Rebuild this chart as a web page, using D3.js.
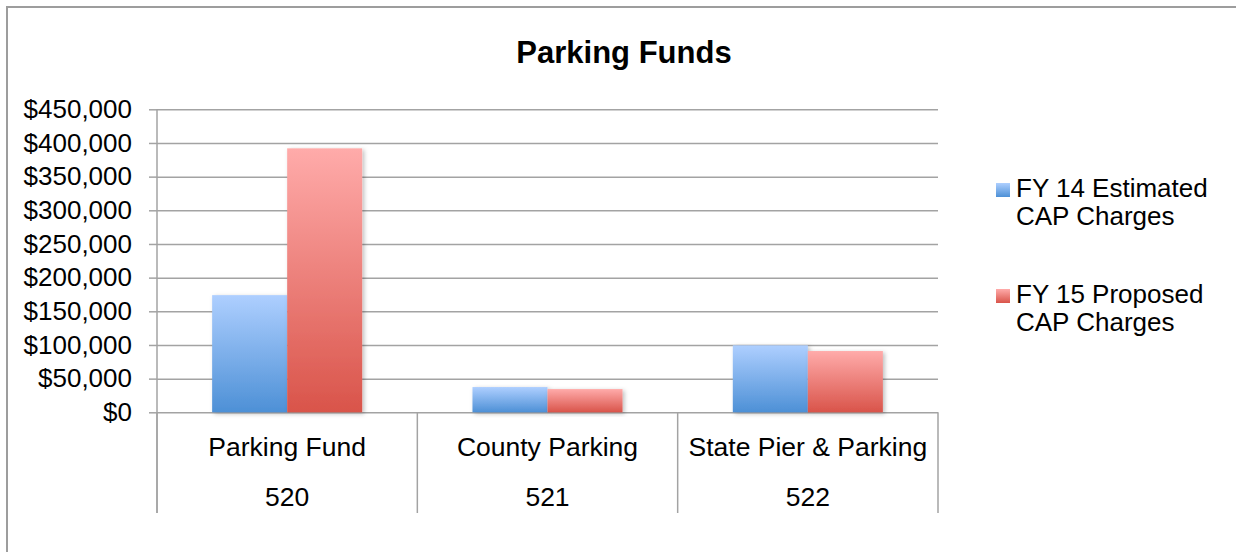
<!DOCTYPE html>
<html>
<head>
<meta charset="utf-8">
<script src="https://cdn.jsdelivr.net/npm/d3@7"></script>
<style>
  html, body { margin: 0; padding: 0; background: #fff; }
  svg { display: block; font-family: "Liberation Sans", Arial, sans-serif; }
</style>
</head>
<body>
<svg id="chart" width="1236" height="552"></svg>
<script>
const categories = ["Parking Fund", "County Parking", "State Pier & Parking"];
const fundCodes = ["520", "521", "522"];
const seriesKeys = ["fy14", "fy15"];
const seriesLabels = [["FY 14 Estimated", "CAP Charges"], ["FY 15 Proposed", "CAP Charges"]];
const fy14Values = [174000, 37500, 99500];
const fy15Values = [392000, 34500, 91000];
const yTicks = [0, 50000, 100000, 150000, 200000, 250000, 300000, 350000, 400000, 450000];

const rows = categories.map((name, i) => ({
  name,
  code: fundCodes[i],
  fy14: fy14Values[i],
  fy15: fy15Values[i],
}));

const plot = { left: 157, right: 938, top: 109.3, bottom: 412.3 };
const gridColor = "#a3a3a3";
const gradients = {
  fy14: ["#aecfff", "#4d90d6"],
  fy15: ["#ffabaa", "#d9544a"],
};

const svg = d3.select("#chart");
const defs = svg.append("defs");

seriesKeys.forEach((key) => {
  const g = defs.append("linearGradient")
    .attr("id", `grad-${key}`)
    .attr("x1", 0).attr("y1", 0).attr("x2", 0).attr("y2", 1);
  g.append("stop").attr("offset", "0%").attr("stop-color", gradients[key][0]);
  g.append("stop").attr("offset", "100%").attr("stop-color", gradients[key][1]);
});

const shadow = defs.append("filter").attr("id", "shadow")
  .attr("x", "-10%").attr("y", "-10%").attr("width", "130%").attr("height", "130%");
shadow.append("feDropShadow")
  .attr("dx", 2).attr("dy", 1.5).attr("stdDeviation", 2)
  .attr("flood-color", "#000").attr("flood-opacity", 0.25);

// outer chart border (right and bottom edges run off the canvas)
svg.append("rect")
  .attr("x", 7).attr("y", 7)
  .attr("width", 1250).attr("height", 560)
  .attr("fill", "none")
  .attr("stroke", "#9d9d9d")
  .attr("stroke-width", 2);

svg.append("text")
  .attr("x", 624)
  .attr("y", 63)
  .attr("text-anchor", "middle")
  .attr("font-size", 31)
  .attr("font-weight", "bold")
  .attr("fill", "#000")
  .text("Parking Funds");

const x0 = d3.scaleBand()
  .domain(categories)
  .range([plot.left, plot.right])
  .padding(0);

const x1 = d3.scaleBand()
  .domain(seriesKeys)
  .range([0, x0.bandwidth()])
  .paddingInner(0)
  .paddingOuter(0.735);

const y = d3.scaleLinear()
  .domain([0, 450000])
  .range([plot.bottom, plot.top]);

// horizontal gridlines
svg.append("g")
  .attr("class", "grid")
  .attr("transform", `translate(${plot.left},0)`)
  .call(d3.axisLeft(y).tickValues(yTicks).tickSize(-(plot.right - plot.left)).tickFormat(""))
  .call((g) => g.select(".domain").remove())
  .call((g) => g.selectAll(".tick line").attr("stroke", gridColor).attr("stroke-width", 1.5));

// y axis with outward ticks
const yAxisG = svg.append("g")
  .attr("class", "y-axis")
  .attr("transform", `translate(${plot.left},0)`)
  .call(d3.axisLeft(y)
    .tickValues(yTicks)
    .tickSize(8)
    .tickPadding(17)
    .tickFormat((d) => "$" + d3.format(",")(d)));
yAxisG.select(".domain").remove();
yAxisG.selectAll(".tick line").attr("stroke", gridColor).attr("stroke-width", 1.5);
yAxisG.selectAll(".tick text")
  .attr("font-size", 26)
  .attr("font-family", "Liberation Sans, Arial, sans-serif")
  .attr("fill", "#000");

// vertical axis line down through the category table
svg.append("line")
  .attr("x1", plot.left).attr("x2", plot.left)
  .attr("y1", plot.top).attr("y2", 513)
  .attr("stroke", gridColor).attr("stroke-width", 1.5);

// category dividers
const dividerXs = categories.map((c) => x0(c) + x0.bandwidth()).concat([plot.left]);
svg.append("g")
  .attr("class", "dividers")
  .selectAll("line")
  .data(dividerXs)
  .join("line")
  .attr("x1", (d) => d).attr("x2", (d) => d)
  .attr("y1", plot.bottom).attr("y2", 513)
  .attr("stroke", gridColor).attr("stroke-width", 1.5);

// bars
const groups = svg.append("g")
  .attr("class", "bars")
  .selectAll("g")
  .data(rows)
  .join("g")
  .attr("transform", (d) => `translate(${x0(d.name)},0)`);

groups.selectAll("rect")
  .data((d) => seriesKeys.map((key) => ({ key, value: d[key] })))
  .join("rect")
  .attr("x", (d) => x1(d.key))
  .attr("y", (d) => y(d.value))
  .attr("width", x1.bandwidth())
  .attr("height", (d) => y(0) - y(d.value))
  .attr("fill", (d) => `url(#grad-${d.key})`)
  .attr("filter", "url(#shadow)");

// category labels (two rows)
const labels = svg.append("g")
  .attr("class", "x-labels")
  .selectAll("g")
  .data(rows)
  .join("g")
  .attr("transform", (d) => `translate(${x0(d.name) + x0.bandwidth() / 2},0)`)
  .attr("text-anchor", "middle")
  .attr("font-size", 26.5)
  .attr("fill", "#000");

labels.append("text").attr("y", 456).text((d) => d.name);
labels.append("text").attr("y", 506).text((d) => d.code);

// legend
const legend = svg.append("g")
  .attr("class", "legend")
  .selectAll("g")
  .data(seriesKeys)
  .join("g")
  .attr("transform", (d, i) => `translate(996,${197 + i * 106})`);

legend.append("rect")
  .attr("x", 0).attr("y", -14)
  .attr("width", 14).attr("height", 14)
  .attr("fill", (d) => `url(#grad-${d})`);

legend.append("text")
  .attr("x", 20)
  .attr("font-size", 26)
  .attr("fill", "#000")
  .selectAll("tspan")
  .data((d, i) => seriesLabels[i])
  .join("tspan")
  .attr("x", 20)
  .attr("dy", (d, j) => (j === 0 ? 0 : 28))
  .text((d) => d);
</script>
</body>
</html>
